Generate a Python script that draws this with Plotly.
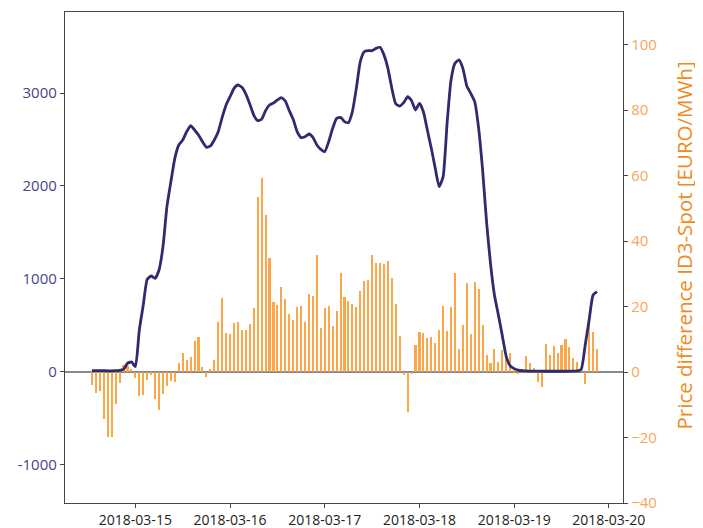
import pandas as pd
import plotly.graph_objects as go

# hourly timestamps of the series (first sample 2018-03-14 13:00)
start_time = "2018-03-14 13:00"

# price difference ID3-Spot [EURO/MWh] (orange bars, right axis)
price_diff = [
    -4.0, -6.5, -5.8, -14.2, -19.9, -19.9, -9.9, -3.2, 2.3, 1.8,
    1.0, -1.7, -7.3, -7.0, -2.4, -0.9, -8.1, -11.6, -6.8, -4.3,
    -2.7, -3.0, 2.9, 5.9, 3.7, 4.5, 9.5, 10.6, 1.4, -1.4,
    0.8, 3.7, 15.2, 22.7, 12.0, 11.5, 14.9, 15.3, 13.0, 13.0,
    14.6, 19.7, 53.6, 59.2, 48.1, 34.8, 21.5, 20.5, 25.9, 22.3,
    17.6, 15.9, 19.8, 20.3, 15.4, 23.9, 23.2, 35.8, 13.6, 19.7,
    20.2, 14.1, 18.7, 30.4, 23.0, 21.7, 20.8, 19.9, 24.7, 27.8,
    28.2, 35.8, 33.4, 33.4, 33.1, 33.9, 28.6, 20.8, 11.0, -0.9,
    -12.1, -0.4, 8.2, 12.3, 12.0, 10.3, 10.6, 9.0, 12.8, 20.2,
    12.5, 20.0, 30.2, 7.0, 14.4, 27.1, 11.6, 27.6, 25.3, 14.4,
    5.2, 2.7, 7.0, 3.0, 6.7, 4.2, 5.7, 0.6, -0.6, 0.8,
    4.9, 2.7, 1.1, -3.0, -4.5, 8.5, 5.2, 8.0, 5.7, 8.3,
    10.0, 7.7, 4.2, 3.2, 1.4, -3.5, 15.1, 12.3, 7.2,
]

# navy line (left axis)
line_values = [
    14, 14, 14, 14, 12, 12, 14, 18, 29, 93,
    108, 57, 452, 720, 996, 1032, 1007, 1097, 1348, 1778,
    2046, 2297, 2441, 2494, 2584, 2649, 2602, 2548, 2477, 2416,
    2430, 2495, 2584, 2738, 2871, 2960, 3050, 3086, 3061, 2989,
    2882, 2763, 2702, 2717, 2810, 2871, 2892, 2925, 2950, 2914,
    2810, 2717, 2584, 2520, 2530, 2559, 2523, 2441, 2394, 2370,
    2477, 2620, 2727, 2738, 2692, 2681, 2799, 3050, 3337, 3444,
    3455, 3455, 3480, 3491, 3410, 3265, 3050, 2882, 2860, 2896,
    2960, 2917, 2817, 2889, 2799, 2602, 2405, 2190, 1993, 2100,
    2674, 3140, 3319, 3355, 3265, 3075, 2996, 2907, 2620, 2172,
    1616, 1168, 828, 613, 390, 165, 65, 36, 21, 14,
    12, 10, 10, 10, 8, 8, 8, 8, 8, 8,
    8, 10, 10, 12, 29, 290, 559, 828, 864,
]

x_ticks = ["2018-03-15", "2018-03-16", "2018-03-17", "2018-03-18", "2018-03-19", "2018-03-20"]
left_ticks = [-1000, 0, 1000, 2000, 3000]
left_ticktext = ["-1000", "0", "1000", "2000", "3000"]
right_ticks = [-40, -20, 0, 20, 40, 60, 80, 100]
right_ticktext = ["\u221240", "\u221220", "0", "20", "40", "60", "80", "100"]
right_title = "Price difference ID3-Spot [EURO/MWh]"

times = pd.date_range(start_time, periods=len(price_diff), freq="h")

NAVY = "#2f2b6e"
ORANGE = "#fb9d35"
FONT = "Open Sans"

fig = go.Figure()
fig.add_trace(go.Bar(
    x=times, y=price_diff, yaxis="y",
    marker=dict(color=ORANGE, line=dict(width=0)),
    width=1.9e6, opacity=0.9, showlegend=False,
))
fig.add_trace(go.Scatter(
    x=times, y=line_values, yaxis="y2", mode="lines",
    line=dict(color=NAVY, width=2.8, shape="spline", smoothing=0.5),
    showlegend=False,
))

# page body has an 8px default margin, so the figure is sized/offset for it
fig.update_layout(
    width=695, height=520,
    margin=dict(l=57, r=80, t=4, b=25, autoexpand=False),
    paper_bgcolor="white", plot_bgcolor="white",
    font=dict(family=FONT, size=14, color="#222"),
    bargap=0,
    xaxis=dict(
        type="date", automargin=False,
        range=["2018-03-14 06:10", "2018-03-20 03:35"],
        tickvals=x_ticks, ticktext=x_ticks,
        ticks="outside", ticklen=4, tickcolor="#444", tickwidth=1.2,
        showline=True, linecolor="#444", linewidth=1.3, mirror=True,
        showgrid=False, zeroline=False,
        tickfont=dict(family=FONT, size=14, color="#222"),
    ),
    yaxis=dict(
        side="right", automargin=False,
        range=[-40, 110],
        tickvals=right_ticks, ticktext=right_ticktext,
        ticks="outside", ticklen=4, tickcolor="#444", tickwidth=1.2,
        showline=True, linecolor="#444", linewidth=1.3,
        showgrid=False, zeroline=True, zerolinecolor="#888", zerolinewidth=1.5,
        tickfont=dict(family=FONT, size=15, color="#f7a65a"),
    ),
    yaxis2=dict(
        side="left", overlaying="y", automargin=False,
        range=[-1409, 3871],
        tickvals=left_ticks, ticktext=left_ticktext,
        ticks="outside", ticklen=4, tickcolor="#444", tickwidth=1.2,
        showline=True, linecolor="#444", linewidth=1.3,
        showgrid=False, zeroline=False,
        tickfont=dict(family=FONT, size=15, color="#47448a"),
    ),
    annotations=[dict(
        text=right_title, xref="paper", yref="paper",
        x=1.0, xshift=60, y=0.5, yshift=12,
        xanchor="center", yanchor="middle", textangle=-90, showarrow=False,
        font=dict(family=FONT, size=20.5, color="#f08a1c"),
    )],
)

fig.write_html("out.html")
